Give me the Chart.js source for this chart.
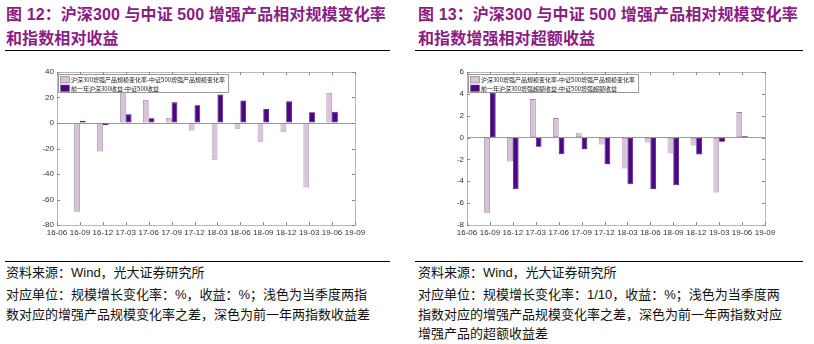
<!DOCTYPE html>
<html lang="zh">
<head>
    <meta charset="UTF-8">
    <title>增强产品相对规模变化率</title>
    <style>
        body {
            margin: 0;
            width: 814px;
            height: 344px;
            background: #fff;
            position: relative;
            overflow: hidden;
            font-family: 'Liberation Sans', 'Noto Sans CJK SC', sans-serif;
        }
        .title {
            position: absolute;
            top: 3px;
            font-size: 16px;
            font-weight: bold;
            line-height: 24px;
            color: #8a1c84;
            letter-spacing: 0.1px;
            white-space: nowrap;
        }
        .rule {
            position: absolute;
            height: 0;
            border-top: 1.5px solid #000;
        }
        .note {
            position: absolute;
            top: 262px;
            font-size: 13px;
            line-height: 19.3px;
            color: #111;
            white-space: nowrap;
        }
        .note div:first-child { margin-top: 1px; margin-bottom: 3px; }
        .box {
            position: absolute;
            top: 60px;
            width: 370px;
            height: 190px;
        }
    </style>
    <script src="https://cdn.jsdelivr.net/npm/chart.js"></script>
</head>
<body>
    <div class="title" style="left:6px">图 12：沪深300 与中证 500 增强产品相对规模变化率<br>和指数相对收益</div>
    <div class="title" style="left:418px">图 13：沪深300 与中证 500 增强产品相对规模变化率<br>和指数增强相对超额收益</div>
    <div class="rule" style="left:5px;width:385px;top:50px"></div>
    <div class="rule" style="left:415px;width:388px;top:50px"></div>

    <div class="box" style="left:0px"><canvas id="chartLeft"></canvas></div>
    <div class="box" style="left:410px"><canvas id="chartRight"></canvas></div>

    <div class="rule" style="left:5px;width:385px;top:261px"></div>
    <div class="rule" style="left:415px;width:388px;top:261px"></div>
    <div class="note" style="left:6px">
        <div>资料来源：Wind，光大证券研究所</div>
        <div>对应单位：规模增长变化率：%，收益：%；浅色为当季度两指</div>
        <div>数对应的增强产品规模变化率之差，深色为前一年两指数收益差</div>
    </div>
    <div class="note" style="left:418px">
        <div>资料来源：Wind，光大证券研究所</div>
        <div>对应单位：规模增长变化率：1/10，收益：%；浅色为当季度两</div>
        <div>指数对应的增强产品规模变化率之差，深色为前一年两指数对应</div>
        <div>增强产品的超额收益差</div>
    </div>

    <script>
        // 季度标签
        const quarters = ['16-06', '16-09', '16-12', '17-03', '17-06', '17-09', '17-12',
                          '18-03', '18-06', '18-09', '18-12', '19-03', '19-06', '19-09'];

        // 图12
        const scaleDiffLeft = [null, -69.7, -22.3, 26, 18.1, 3.9, -5.8, -28.8, -4.5, -14.7, -7.3, -50.6, 23.6, null];
        const returnDiff = [null, 1.8, -1.8, 6.8, 3.7, 16.2, 13.9, 22.3, 17.6, 11, 17, 8.4, 8.9, null];
        const yTicksLeft = [-80, -60, -40, -20, 0, 20, 40];

        // 图13
        const scaleDiffRight = [null, -6.93, -2.19, 3.52, 1.78, 0.44, -0.63, -2.83, -0.45, -1.46, -0.72, -5.03, 2.33, null];
        const excessDiff = [null, 4.1, -4.73, -0.85, -1.52, -1.06, -2.43, -4.27, -4.73, -4.36, -1.55, -0.39, 0.13, null];
        const yTicksRight = [-8, -6, -4, -2, 0, 2, 4, 6];

        const lightLabel = '沪深300增强产品规模变化率-中证500增强产品规模变化率';
        const darkLabelLeft = '前一年沪深300收益-中证500收益';
        const darkLabelRight = '前一年沪深300增强超额收益-中证500增强超额收益';

        const LIGHT = '#d9c2da';
        const DARK = '#4b0585';

        // 边框、内向刻度和图内图例
        const framePlugin = {
            id: 'frame',
            afterDraw(chart) {
                const ctx = chart.ctx;
                const a = chart.chartArea;
                const xs = chart.scales.x, ys = chart.scales.y;
                ctx.save();
                ctx.strokeStyle = '#b8b8b8';
                ctx.lineWidth = 1;
                ctx.strokeRect(Math.round(a.left) + 0.5, Math.round(a.top) + 0.5,
                               Math.round(a.right - a.left), Math.round(a.bottom - a.top));
                ctx.strokeStyle = '#888';
                ctx.beginPath();
                xs.ticks.forEach((t, i) => {
                    const x = Math.round(xs.getPixelForTick(i)) + 0.5;
                    ctx.moveTo(x, a.bottom); ctx.lineTo(x, a.bottom - 3);
                    ctx.moveTo(x, a.top); ctx.lineTo(x, a.top + 3);
                });
                ys.ticks.forEach((t, i) => {
                    const y = Math.round(ys.getPixelForTick(i)) + 0.5;
                    ctx.moveTo(a.left, y); ctx.lineTo(a.left + 3, y);
                    ctx.moveTo(a.right, y); ctx.lineTo(a.right - 3, y);
                });
                ctx.stroke();

                // 图例
                ctx.font = '6px "Noto Sans CJK SC"';
                const labels = chart.data.datasets.map(d => d.label);
                const w = Math.max(...labels.map(l => ctx.measureText(l).width)) + 16;
                const bx = a.left + 1.5, by = a.top + 2.5;
                ctx.fillStyle = '#fff';
                ctx.fillRect(bx, by, w, 18);
                ctx.strokeStyle = '#999';
                ctx.strokeRect(bx, by, w, 18);
                chart.data.datasets.forEach((d, i) => {
                    const ry = by + 1.5 + i * 8.5;
                    ctx.fillStyle = d.backgroundColor;
                    ctx.fillRect(bx + 2, ry + 0.5, 9, 6.5);
                    ctx.strokeStyle = '#666';
                    ctx.lineWidth = 0.5;
                    ctx.strokeRect(bx + 2, ry + 0.5, 9, 6.5);
                    ctx.fillStyle = '#222';
                    ctx.textBaseline = 'middle';
                    ctx.fillText(d.label, bx + 12.5, ry + 4);
                });
                ctx.restore();
            }
        };

        function makeChart(id, light, dark, darkLabel, yTicks) {
            const ctx = document.getElementById(id).getContext('2d');
            return new Chart(ctx, {
                type: 'bar',
                data: {
                    labels: quarters,
                    datasets: [
                        {
                            label: lightLabel,
                            data: light,
                            backgroundColor: LIGHT,
                            borderColor: 'rgba(110,90,115,0.7)',
                            borderWidth: 0.8,
                            borderSkipped: false
                        },
                        {
                            label: darkLabel,
                            data: dark,
                            backgroundColor: DARK,
                            borderColor: '#3a0068',
                            borderWidth: 0.8,
                            borderSkipped: false
                        }
                    ]
                },
                options: {
                    responsive: true,
                    maintainAspectRatio: false,
                    animation: false,
                    categoryPercentage: 0.5,
                    barPercentage: 1,
                    layout: { padding: { top: 12, right: 15, bottom: 0, left: 0 } },
                    scales: {
                        x: {
                            offset: false,
                            grid: { display: false, drawTicks: false, offset: false },
                            border: { display: false },
                            ticks: {
                                color: '#333',
                                font: { family: 'Liberation Sans', size: 8 },
                                maxRotation: 0,
                                autoSkip: false,
                                padding: 3
                            },
                            afterFit(scale) { scale.height = 25; }
                        },
                        y: {
                            min: yTicks[0],
                            max: yTicks[yTicks.length - 1],
                            afterBuildTicks(scale) { scale.ticks = yTicks.map(v => ({ value: v })); },
                            grid: {
                                drawTicks: false,
                                color: c => (c.tick && c.tick.value === 0) ? '#9a9a9a' : 'rgba(0,0,0,0)'
                            },
                            border: { display: false },
                            ticks: {
                                color: '#333',
                                font: { family: 'Liberation Sans', size: 8 },
                                padding: 3
                            },
                            afterFit(scale) { scale.width = 57; }
                        }
                    },
                    plugins: {
                        legend: { display: false },
                        tooltip: { enabled: false }
                    }
                },
                plugins: [framePlugin]
            });
        }

        makeChart('chartLeft', scaleDiffLeft, returnDiff, darkLabelLeft, yTicksLeft);
        makeChart('chartRight', scaleDiffRight, excessDiff, darkLabelRight, yTicksRight);
    </script>
</body>
</html>
